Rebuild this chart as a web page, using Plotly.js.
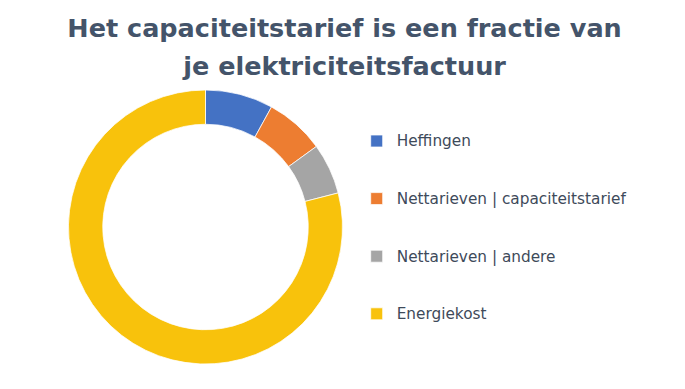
<!DOCTYPE html>
<html>
<head>
<meta charset="utf-8">
<script src="https://cdn.plot.ly/plotly-3.0.1.min.js"></script>
<style>html,body{margin:0;padding:0;background:#fff;}#chart{width:685px;height:389px;}</style>
</head>
<body>
<div id="chart"></div>
<script>
var categories = ["Heffingen", "Nettarieven | capaciteitstarief", "Nettarieven | andere", "Energiekost"];
var shares = [8, 7, 6, 79];
var sliceColors = ["#4472C4", "#ED7D31", "#A5A5A5", "#F8C20C"];
var titleLines = ["Het capaciteitstarief is een fractie van", "je elektriciteitsfactuur"];

var legendLabels = categories.map(function (c) {
  return '<br><span style="font-size:15.3px">' + c + '</span><br> ';
});

var trace = {
  type: 'pie',
  labels: legendLabels,
  values: shares,
  hole: 0.75,
  sort: false,
  direction: 'clockwise',
  rotation: 0,
  textinfo: 'none',
  hoverinfo: 'none',
  marker: { colors: sliceColors, line: { color: '#ffffff', width: 0.75 } },
  domain: { x: [68.5 / 685, 342.5 / 685], y: [25 / 389, 299 / 389] }
};

var layout = {
  width: 685,
  height: 389,
  margin: { l: 0, r: 0, t: 0, b: 0 },
  paper_bgcolor: '#ffffff',
  plot_bgcolor: '#ffffff',
  title: {
    text: titleLines.map(function (t) { return '<span style="font-size:25.5px">' + t + '</span>'; }).join('<br>'),
    font: { family: 'DejaVu Sans, Verdana, sans-serif', size: 29.5, color: '#44546A', weight: 'bold' },
    x: 0.503, xanchor: 'center',
    y: 1 - 37 / 389, yanchor: 'top', yref: 'container'
  },
  showlegend: true,
  legend: {
    x: 356.7 / 685, xanchor: 'left',
    y: (389 - 107.2) / 389, yanchor: 'top',
    font: { family: 'DejaVu Sans, Verdana, sans-serif', size: 14, color: '#3E4A5A' },
    bgcolor: 'rgba(0,0,0,0)',
    borderwidth: 0,
    itemwidth: 30
  }
};

Plotly.newPlot('chart', [trace], layout, { displayModeBar: false, staticPlot: true });
</script>
</body>
</html>
